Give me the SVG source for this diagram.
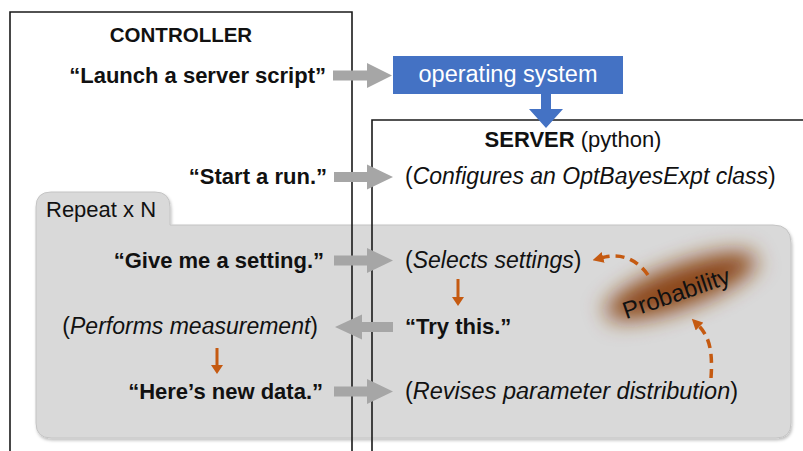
<svg xmlns="http://www.w3.org/2000/svg" width="803" height="451" viewBox="0 0 803 451">
<style>
text{font-family:"Liberation Sans",Arial,sans-serif;fill:#111}
.b{font-weight:bold}
.q{font-size:22px;font-weight:bold}
.a{font-size:23px}
.i{font-style:italic}
.frame{fill:none;stroke:#1a1a1a;stroke-width:1.6}
.gray{fill:#a6a6a6}
.org{fill:#C55A11}
.dash{fill:none;stroke:#C55A11;stroke-width:3.5;stroke-dasharray:9 6}
</style>
<defs>
<filter id="shadow" x="-5%" y="-5%" width="110%" height="115%"><feDropShadow dx="1" dy="2" stdDeviation="1.5" flood-color="#000" flood-opacity="0.25"/></filter>
<filter id="blur" x="-60%" y="-150%" width="220%" height="400%"><feGaussianBlur stdDeviation="11"/></filter>
<marker id="oh" viewBox="0 0 10 10" refX="2" refY="5" markerWidth="11" markerHeight="11" markerUnits="userSpaceOnUse" orient="auto"><path d="M0,0 L10,5 L0,10 z" fill="#C55A11"/></marker>
</defs>
<rect width="803" height="451" fill="#fff"/>

<g id="repeat">
<path d="M51,438 H776 Q791,438 791,423 V243 Q791,225 773,225 H170 V207 Q170,192 155,192 H51 Q36,192 36,207 V423 Q36,438 51,438 Z" fill="#d9d9d9" stroke="#c4c4c4" stroke-width="1" filter="url(#shadow)"/>
<text x="46" y="217" style="font-size:22px">Repeat x N</text>
</g>

<g id="probability">
<ellipse cx="0" cy="0" rx="80" ry="21" fill="#8a4519" filter="url(#blur)" transform="translate(681,286) rotate(-20)"/>
<text transform="translate(679,301) rotate(-19)" text-anchor="middle" style="font-size:24px">Probability</text>
</g>

<g id="controller">
<path class="frame" d="M10,460 V12 H352 V460"/>
<text class="b" x="181" y="42" text-anchor="middle" style="font-size:20.5px">CONTROLLER</text>
</g>

<g id="server">
<path class="frame" d="M372,460 V120 H810"/>
<text x="573" y="147" text-anchor="middle" style="font-size:22px"><tspan class="b">SERVER</tspan> (python)</text>
</g>

<g id="connectors">
<polygon class="gray" points="333,70.5 367,70.5 367,63 392,75.5 367,88 367,80.5 333,80.5"/>
<polygon class="gray" points="334,172 367,172 367,164.5 393,177 367,189.5 367,182 334,182"/>
<polygon class="gray" points="334,255.5 367,255.5 367,248 393,260.5 367,273 367,265.5 334,265.5"/>
<polygon class="gray" points="393,322 362,322 362,314.5 335,327 362,339.5 362,332 393,332"/>
<polygon class="gray" points="334,386.5 367,386.5 367,379 393,391.5 367,404 367,396.5 334,396.5"/>
<polygon fill="#4472C4" points="541,93 551,93 551,109 563,109 546,128 529,109 541,109"/>
<polygon class="org" points="456.5,279 459.5,279 459.5,297 464,297 458,306 452,297 456.5,297"/>
<polygon class="org" points="215.5,348 218.5,348 218.5,365 223,365 217,374 211,365 215.5,365"/>
<path class="dash" d="M648,275 Q630,250 601,258" marker-end="url(#oh)"/>
<path class="dash" d="M711,378 C713,350 709,336 698,325" marker-end="url(#oh)"/>
</g>

<g id="os">
<rect x="393" y="56" width="230" height="38" fill="#4472C4"/>
<text x="508" y="82" text-anchor="middle" style="font-size:23.5px;fill:#fff">operating system</text>
</g>

<g id="msg-launch"><text class="q" x="326" y="83" text-anchor="end">“Launch a server script”</text></g>
<g id="msg-start"><text class="q" x="327" y="184" text-anchor="end">“Start a run.”</text></g>
<g id="act-configure"><text class="a" x="405" y="184">(<tspan class="i">Configures an OptBayesExpt class</tspan>)</text></g>
<g id="msg-give"><text class="q" x="324" y="268" text-anchor="end">“Give me a setting.”</text></g>
<g id="act-select"><text class="a" x="405" y="268">(<tspan class="i">Selects settings</tspan>)</text></g>
<g id="msg-try"><text class="q" x="405" y="334">“Try this.”</text></g>
<g id="act-measure"><text class="a" x="318" y="334" text-anchor="end">(<tspan class="i">Performs measurement</tspan>)</text></g>
<g id="msg-data"><text class="q" x="323" y="399" text-anchor="end">“Here’s new data.”</text></g>
<g id="act-revise"><text class="a" x="405" y="399" style="font-size:23.5px">(<tspan class="i">Revises parameter distribution</tspan>)</text></g>
</svg>
